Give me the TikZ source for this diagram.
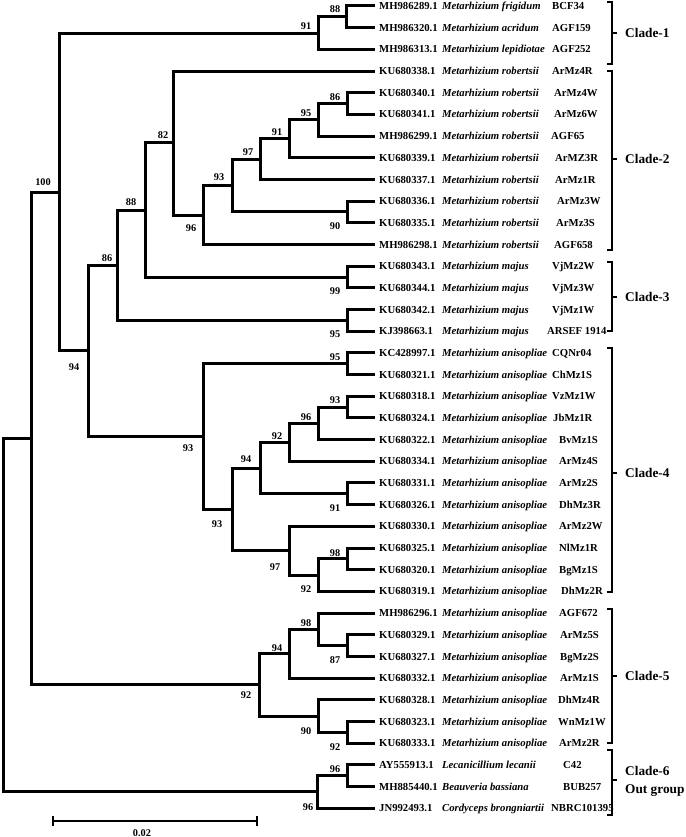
\documentclass[tikz,border=0pt]{standalone}
\usepackage{fontspec}
\setmainfont{Liberation Serif}
\begin{document}
\begin{tikzpicture}[x=1pt,y=-1pt,
  br/.style={line width=3pt, line join=miter},
  brk/.style={line width=1.2pt},
  acc/.style={anchor=base west, inner sep=0pt, font=\fontsize{10.7}{12}\selectfont\bfseries},
  spc/.style={anchor=base west, inner sep=0pt, font=\fontsize{10.7}{12}\selectfont\bfseries\itshape},
  bs/.style={inner sep=0pt, font=\fontsize{10.3}{12}\selectfont\bfseries},
  clade/.style={anchor=base west, inner sep=0pt, font=\fontsize{13.3}{16}\selectfont\bfseries}]
\useasboundingbox (0,0) rectangle (685,837);
\fill[white] (0,0) rectangle (685,837);

% leaves
\foreach [count=\i] \ac/\sp/\st/\sx in {
 MH986289.1/Metarhizium frigidum/BCF34/552,
 MH986320.1/Metarhizium acridum/AGF159/552,
 MH986313.1/Metarhizium lepidiotae/AGF252/552,
 KU680338.1/Metarhizium robertsii/ArMz4R/552,
 KU680340.1/Metarhizium robertsii/ArMz4W/554,
 KU680341.1/Metarhizium robertsii/ArMz6W/554,
 MH986299.1/Metarhizium robertsii/AGF65/551,
 KU680339.1/Metarhizium robertsii/ArMZ3R/555,
 KU680337.1/Metarhizium robertsii/ArMz1R/555,
 KU680336.1/Metarhizium robertsii/ArMz3W/557,
 KU680335.1/Metarhizium robertsii/ArMz3S/556,
 MH986298.1/Metarhizium robertsii/AGF658/554,
 KU680343.1/Metarhizium majus/VjMz2W/552,
 KU680344.1/Metarhizium majus/VjMz3W/552,
 KU680342.1/Metarhizium majus/VjMz1W/552,
 KJ398663.1/Metarhizium majus/ARSEF 1914/547,
 KC428997.1/Metarhizium anisopliae/CQNr04/552,
 KU680321.1/Metarhizium anisopliae/ChMz1S/552,
 KU680318.1/Metarhizium anisopliae/VzMz1W/552,
 KU680324.1/Metarhizium anisopliae/JbMz1R/553,
 KU680322.1/Metarhizium anisopliae/BvMz1S/559,
 KU680334.1/Metarhizium anisopliae/ArMz4S/559,
 KU680331.1/Metarhizium anisopliae/ArMz2S/559,
 KU680326.1/Metarhizium anisopliae/DhMz3R/559,
 KU680330.1/Metarhizium anisopliae/ArMz2W/559,
 KU680325.1/Metarhizium anisopliae/NlMz1R/559,
 KU680320.1/Metarhizium anisopliae/BgMz1S/559,
 KU680319.1/Metarhizium anisopliae/DhMz2R/561,
 MH986296.1/Metarhizium anisopliae/AGF672/559,
 KU680329.1/Metarhizium anisopliae/ArMz5S/560,
 KU680327.1/Metarhizium anisopliae/BgMz2S/560,
 KU680332.1/Metarhizium anisopliae/ArMz1S/560,
 KU680328.1/Metarhizium anisopliae/DhMz4R/558,
 KU680323.1/Metarhizium anisopliae/WnMz1W/558,
 KU680333.1/Metarhizium anisopliae/ArMz2R/559,
 AY555913.1/Lecanicillium lecanii/C42/563,
 MH885440.1/Beauveria bassiana/BUB257/563,
 JN992493.1/Cordyceps brongniartii/NBRC101395/551} {
  \pgfmathsetmacro\yy{6+(\i-1)*21.68}
  \coordinate (l\i) at (375,\yy);
  \node[acc] (acc\i) at (379,\yy+3.6) {\ac};
  \node[spc] (sp\i) at (442,\yy+3.6) {\sp};
  \node[acc] (st\i) at (\sx,\yy+3.6) {\st};
}

% internal nodes
\coordinate (L) at (347,103.55);
\coordinate (K) at (318,119.8);
\coordinate (J) at (289,138.8);
\coordinate (I) at (260,159.1);
\coordinate (N90) at (347,211.95);
\coordinate (H) at (232,185.5);
\coordinate (G) at (203,215.0);
\coordinate (F) at (173,143.0);
\coordinate (C3a) at (347,277.0);
\coordinate (E) at (145,210.0);
\coordinate (C3b) at (347,320.35);
\coordinate (D) at (117,265.2);
\coordinate (U) at (347,407.05);
\coordinate (T) at (318,423.3);
\coordinate (R) at (289,442.3);
\coordinate (S) at (347,493.8);
\coordinate (P) at (260,468.05);
\coordinate (W) at (347,558.85);
\coordinate (V) at (318,575.1);
\coordinate (Q) at (289,550.7);
\coordinate (O) at (232,509.4);
\coordinate (N95) at (347,363.75);
\coordinate (M) at (203,436.6);
\coordinate (C) at (88,350.9);
\coordinate (C1a) at (346,16.85);
\coordinate (C1) at (318,33.1);
\coordinate (B) at (59,192.0);
\coordinate (AB) at (347,645.55);
\coordinate (AA) at (318,629.3);
\coordinate (Y) at (289,653.7);
\coordinate (AC) at (347,732.25);
\coordinate (Z) at (318,716.0);
\coordinate (X) at (259,684.9);
\coordinate (A) at (31,438.4);
\coordinate (AD) at (347,775.65);
\coordinate (OG) at (317,791.9);
\coordinate (Root) at (3,615.2);

% branches
\foreach \n/\a/\b in {C1a/l1/l2, C1/C1a/l3, L/l5/l6, K/L/l7, J/K/l8, I/J/l9,
  N90/l10/l11, H/I/N90, G/H/l12, F/l4/G, C3a/l13/l14, E/F/C3a, C3b/l15/l16,
  D/E/C3b, N95/l17/l18, U/l19/l20, T/U/l21, R/T/l22, S/l23/l24, P/R/S,
  W/l26/l27, V/W/l28, Q/l25/V, O/P/Q, M/N95/O, C/D/M, B/C1/C,
  AB/l30/l31, AA/l29/AB, Y/AA/l32, AC/l34/l35, Z/l33/AC, X/Y/Z, A/B/X,
  AD/l36/l37, OG/AD/l38, Root/A/OG} {
  \draw[br] (\a) -| (\n) |- (\b);
}

% bootstrap values
\foreach \x/\y/\t in {43/182/100, 306/26/91, 335/9/88, 335/97/86, 306/113/95,
  277/132/91, 163/135/82, 248/152/97, 219/177/93, 131/202/88, 191/228/96,
  335/226/90, 107/258/86, 335/291/99, 335/334/95, 74/367/94, 335/357/95,
  335/400/93, 306/417/96, 277/436/92, 188/448/93, 246/459/94, 335/508/91,
  217/524/93, 335/553/98, 275/567/97, 306/589/92, 306/623/98, 277/648/94,
  335/660/87, 246/695/92, 306/731/90, 335/747/92, 335/769/96, 308/807/96} {
  \node[bs] at (\x,\y) {\t};
}

% clade brackets
\foreach \k/\top/\bot/\mid in {1/2/64/33, 2/71/250/159, 3/262/331/297,
  4/348/592/473, 5/609/743/676, 6/750/815/780} {
  \coordinate (bt\k) at (612,\top);
  \coordinate (bb\k) at (612,\bot);
  \coordinate (bm\k) at (612,\mid);
  \draw[brk] ([xshift=-5pt]bt\k) -- (bt\k) -- (bb\k) -- ([xshift=-5pt]bb\k);
  \draw[brk] (bm\k) -- ++(5,0);
}
\node[clade] (cl1) at (625,37.5) {Clade-1};
\node[clade] (cl2) at (625,163.5) {Clade-2};
\node[clade] (cl3) at (625,301.5) {Clade-3};
\node[clade] (cl4) at (625,477.5) {Clade-4};
\node[clade] (cl5) at (625,680.5) {Clade-5};
\node[clade] (cl6) at (625,775.5) {Clade-6};
\node[clade] (og) at (625,793.5) {Out group};

% scale bar
\coordinate (sb1) at (53,821);
\coordinate (sb2) at (257,821);
\draw[line width=2.5pt] (sb1) -- (sb2);
\draw[line width=2.5pt] ([yshift=-5pt]sb1) -- ([yshift=5pt]sb1);
\draw[line width=2.5pt] ([yshift=-5pt]sb2) -- ([yshift=5pt]sb2);
\node[bs] (sbl) at (142,833) {0.02};
\end{tikzpicture}
\end{document}
